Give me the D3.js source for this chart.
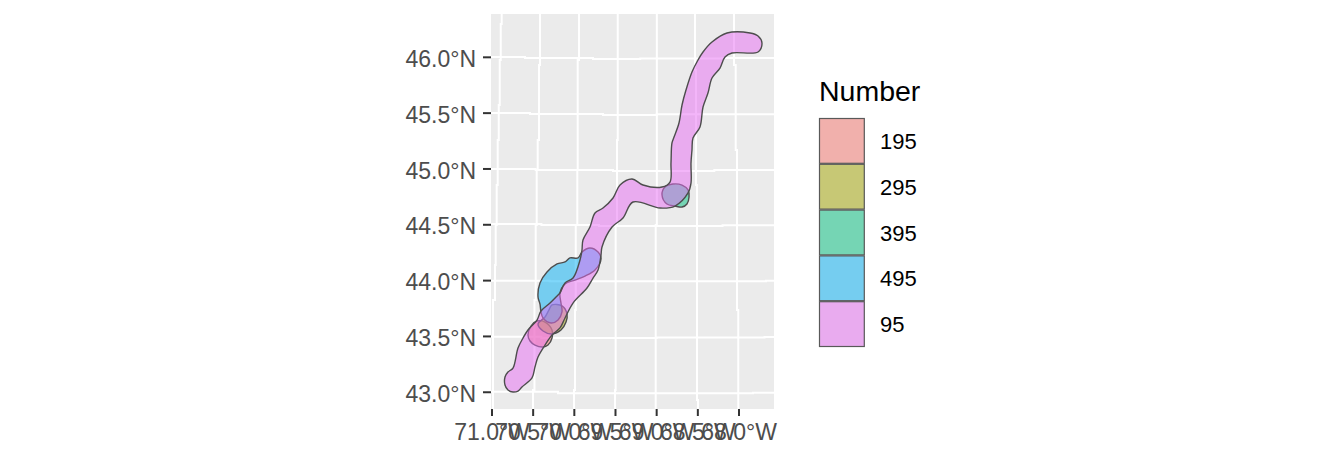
<!DOCTYPE html>
<html>
<head>
<meta charset="utf-8">
<script src="https://cdn.jsdelivr.net/npm/d3@7"></script>
<style>
    html, body { margin: 0; padding: 0; background: #fff; }
    text { font-family: "Liberation Sans", Arial, sans-serif; }
</style>
</head>
<body>
<div id="map"></div>
<script>
const WIDTH = 1344;
const HEIGHT = 460;
const AXIS_FONT = 23;

// Route numbers, in legend order
const numbers = ["195", "295", "395", "495", "95"];
const numberColors = ["#F8766D", "#A3A500", "#00BF7D", "#00B0F6", "#E76BF3"];

// Outlines of the buffered routes, [lon, lat]
const route195 = [[-70.563,43.513],[-70.526,43.593],[-70.453,43.638],[-70.356,43.629],[-70.271,43.558],[-70.271,43.486],[-70.320,43.423],[-70.380,43.405],[-70.478,43.423],[-70.538,43.459]];
const route295 = [[-70.271,43.782],[-70.150,43.773],[-70.089,43.701],[-70.101,43.629],[-70.162,43.558],[-70.271,43.522],[-70.380,43.549],[-70.441,43.611],[-70.356,43.674],[-70.308,43.737]];
const route395 = [[-68.935,44.767],[-68.899,44.838],[-68.802,44.865],[-68.692,44.856],[-68.619,44.812],[-68.607,44.749],[-68.632,44.686],[-68.692,44.659],[-68.777,44.668],[-68.875,44.686]];
const route495 = [[-70.283,43.620],[-70.380,43.665],[-70.405,43.719],[-70.417,43.790],[-70.441,43.853],[-70.417,43.979],[-70.332,44.077],[-70.210,44.149],[-70.113,44.167],[-70.053,44.203],[-69.955,44.203],[-69.907,44.256],[-69.810,44.292],[-69.712,44.256],[-69.676,44.194],[-69.749,44.095],[-69.870,44.041],[-69.992,44.005],[-70.113,43.970],[-70.174,43.889],[-70.162,43.799],[-70.150,43.719],[-70.198,43.647]];
const route95 = [[-70.745,43.002],[-70.806,43.020],[-70.842,43.065],[-70.842,43.137],[-70.806,43.181],[-70.745,43.217],[-70.684,43.396],[-70.623,43.486],[-70.563,43.558],[-70.453,43.647],[-70.405,43.728],[-70.295,43.799],[-70.198,43.871],[-70.174,43.889],[-70.113,43.979],[-70.016,44.023],[-69.931,44.185],[-69.907,44.274],[-69.895,44.364],[-69.810,44.480],[-69.749,44.606],[-69.652,44.650],[-69.530,44.740],[-69.445,44.856],[-69.300,44.910],[-69.166,44.856],[-68.935,44.838],[-68.838,44.883],[-68.826,45.053],[-68.814,45.233],[-68.789,45.286],[-68.729,45.412],[-68.692,45.573],[-68.644,45.707],[-68.571,45.869],[-68.498,45.976],[-68.437,46.048],[-68.328,46.137],[-68.146,46.218],[-67.866,46.218],[-67.769,46.191],[-67.721,46.128],[-67.769,46.048],[-68.085,46.039],[-68.170,46.003],[-68.231,45.904],[-68.328,45.815],[-68.377,45.680],[-68.437,45.555],[-68.474,45.376],[-68.559,45.277],[-68.571,45.170],[-68.583,45.053],[-68.583,44.874],[-68.619,44.785],[-68.777,44.668],[-68.959,44.650],[-69.287,44.704],[-69.409,44.561],[-69.542,44.480],[-69.664,44.301],[-69.676,44.229],[-69.712,44.095],[-69.773,44.023],[-69.846,43.934],[-70.016,43.799],[-70.113,43.665],[-70.174,43.576],[-70.271,43.513],[-70.356,43.423],[-70.441,43.316],[-70.478,43.226],[-70.514,43.128],[-70.636,43.047],[-70.684,43.011]];
const routes = [route195, route295, route395, route495, route95];

// Axis ticks
const lonTicks = [-71, -70.5, -70, -69.5, -69, -68.5, -68];
const lonLabels = ["71.0°W", "70.5°W", "70.0°W", "69.5°W", "69.0°W", "68.5°W", "68.0°W"];
const latTicks = [43, 43.5, 44, 44.5, 45, 45.5, 46];
const latLabels = ["43.0°N", "43.5°N", "44.0°N", "44.5°N", "45.0°N", "45.5°N", "46.0°N"];

// Graticule, the meridians and parallels are slightly stepped
const meridians = [
    [[-70.882,46.388],[-70.894,46.298],[-70.906,45.976],[-70.918,45.573],[-70.931,45.259],[-70.943,44.856],[-70.955,44.498],[-70.963,44.140],[-70.988,43.826],[-70.988,42.85]],
    [[-70.417,46.388],[-70.429,45.931],[-70.445,45.259],[-70.457,44.991],[-70.469,44.498],[-70.484,43.826],[-70.502,43.020],[-70.502,42.85]],
    [[-69.943,46.388],[-69.959,45.976],[-69.964,44.991],[-69.983,44.498],[-69.992,43.737],[-70.004,43.020],[-70.004,42.85]],
    [[-69.473,46.388],[-69.482,45.259],[-69.498,44.498],[-69.506,43.020],[-69.506,42.85]],
    [[-68.998,46.388],[-69.012,44.498],[-69.012,42.85]],
    [[-68.534,46.388],[-68.522,45.886],[-68.510,44.856],[-68.498,42.931],[-68.498,42.85]],
    [[-68.061,46.388],[-68.040,45.931],[-68.024,45.170],[-68.009,43.737],[-68.009,42.85]]
];
const parallels = [
    [[-71.012,46.003],[-70.599,45.994],[-69.773,45.985],[-69.2,45.990],[-68.2,45.995],[-67.575,45.995]],
    [[-71.012,45.501],[-70.538,45.492],[-69.652,45.483],[-69.0,45.490],[-67.575,45.490]],
    [[-71.012,45.000],[-70.470,44.991],[-69.530,44.982],[-68.3,44.990],[-67.575,44.990]],
    [[-71.012,44.507],[-70.4,44.498],[-69.7,44.489],[-68.2,44.495],[-67.575,44.495]],
    [[-71.012,43.999],[-70.3,43.994],[-67.672,43.999],[-67.575,43.999]],
    [[-71.012,43.498],[-70.4,43.486],[-69.0,43.490],[-67.69,43.495],[-67.575,43.495]],
    [[-71.012,43.005],[-70.198,42.991],[-67.83,42.996],[-67.575,42.996]]
];

const panel = { left: 491, right: 774, top: 14, bottom: 409 };

const x = d3.scaleLinear().domain([-71.012, -67.575]).range([panel.left, panel.right]);
const y = d3.scaleLinear().domain([42.85, 46.388]).range([panel.bottom, panel.top]);

const svg = d3.select("#map")
    .append("svg")
    .attr("width", WIDTH)
    .attr("height", HEIGHT)
    .style("display", "block");

svg.append("rect")
    .attr("x", panel.left)
    .attr("y", panel.top)
    .attr("width", panel.right - panel.left)
    .attr("height", panel.bottom - panel.top)
    .attr("fill", "#EBEBEB");

// Grid
const meridianLine = d3.line().x(d => x(d[0])).y(d => y(d[1])).curve(d3.curveStepBefore);
const parallelLine = d3.line().x(d => x(d[0])).y(d => y(d[1])).curve(d3.curveStepAfter);

svg.append("g").selectAll("path")
    .data(meridians)
    .enter()
    .append("path")
    .attr("d", meridianLine)
    .attr("fill", "none")
    .attr("stroke", "#fff")
    .attr("stroke-width", 2);

svg.append("g").selectAll("path")
    .data(parallels)
    .enter()
    .append("path")
    .attr("d", parallelLine)
    .attr("fill", "none")
    .attr("stroke", "#fff")
    .attr("stroke-width", 2);

// Routes
const outline = d3.line().x(d => x(d[0])).y(d => y(d[1])).curve(d3.curveCatmullRomClosed.alpha(0.5));

svg.append("g").selectAll("path")
    .data(routes)
    .enter()
    .append("path")
    .attr("d", outline)
    .attr("fill", (d, i) => numberColors[i])
    .attr("fill-opacity", 0.5)
    .attr("stroke", "#4D4D4D")
    .attr("stroke-width", 1.4);

// Axes
const xAxis = d3.axisBottom(x)
    .tickValues(lonTicks)
    .tickFormat((d, i) => lonLabels[i])
    .tickSize(7)
    .tickPadding(8)
    .offset(0);

const yAxis = d3.axisLeft(y)
    .tickValues(latTicks)
    .tickFormat((d, i) => latLabels[i])
    .tickSize(8)
    .tickPadding(7)
    .offset(0);

const xg = svg.append("g").attr("transform", `translate(0, ${panel.bottom})`).call(xAxis);
const yg = svg.append("g").attr("transform", `translate(${panel.left}, 0)`).call(yAxis);

[xg, yg].forEach(g => {
    g.select(".domain").remove();
    g.selectAll(".tick line").attr("stroke", "#333333").attr("stroke-width", 2);
    g.selectAll(".tick text")
        .attr("fill", "#4D4D4D")
        .style("font-family", '"Liberation Sans", Arial, sans-serif')
        .style("font-size", `${AXIS_FONT}px`);
});
yg.selectAll(".tick text").attr("dy", "0.42em");

// Legend
const KEY_SIZE = 45.8;
const legend = svg.append("g").attr("transform", "translate(819, 118)");

legend.append("text")
    .text("Number")
    .attr("x", 0)
    .attr("y", -17)
    .attr("fill", "#000")
    .style("font-size", "28.5px");

legend.selectAll("rect.keybg")
    .data(numbers)
    .enter()
    .append("rect")
    .attr("class", "keybg")
    .attr("y", (d, i) => KEY_SIZE * i)
    .attr("width", KEY_SIZE)
    .attr("height", KEY_SIZE)
    .attr("fill", "#EBEBEB");

legend.selectAll("rect.key")
    .data(numbers)
    .enter()
    .append("rect")
    .attr("class", "key")
    .attr("x", 0.5)
    .attr("y", (d, i) => KEY_SIZE * i + 0.5)
    .attr("width", KEY_SIZE - 1)
    .attr("height", KEY_SIZE - 1)
    .attr("fill", (d, i) => numberColors[i])
    .attr("fill-opacity", 0.5)
    .attr("stroke", "#595959")
    .attr("stroke-width", 1.2);

legend.selectAll("text.key")
    .data(numbers)
    .enter()
    .append("text")
    .attr("class", "key")
    .text(d => d)
    .attr("x", 61)
    .attr("y", (d, i) => KEY_SIZE * i + KEY_SIZE / 2 + 8)
    .attr("fill", "#000")
    .style("font-size", "22px");
</script>
</body>
</html>
